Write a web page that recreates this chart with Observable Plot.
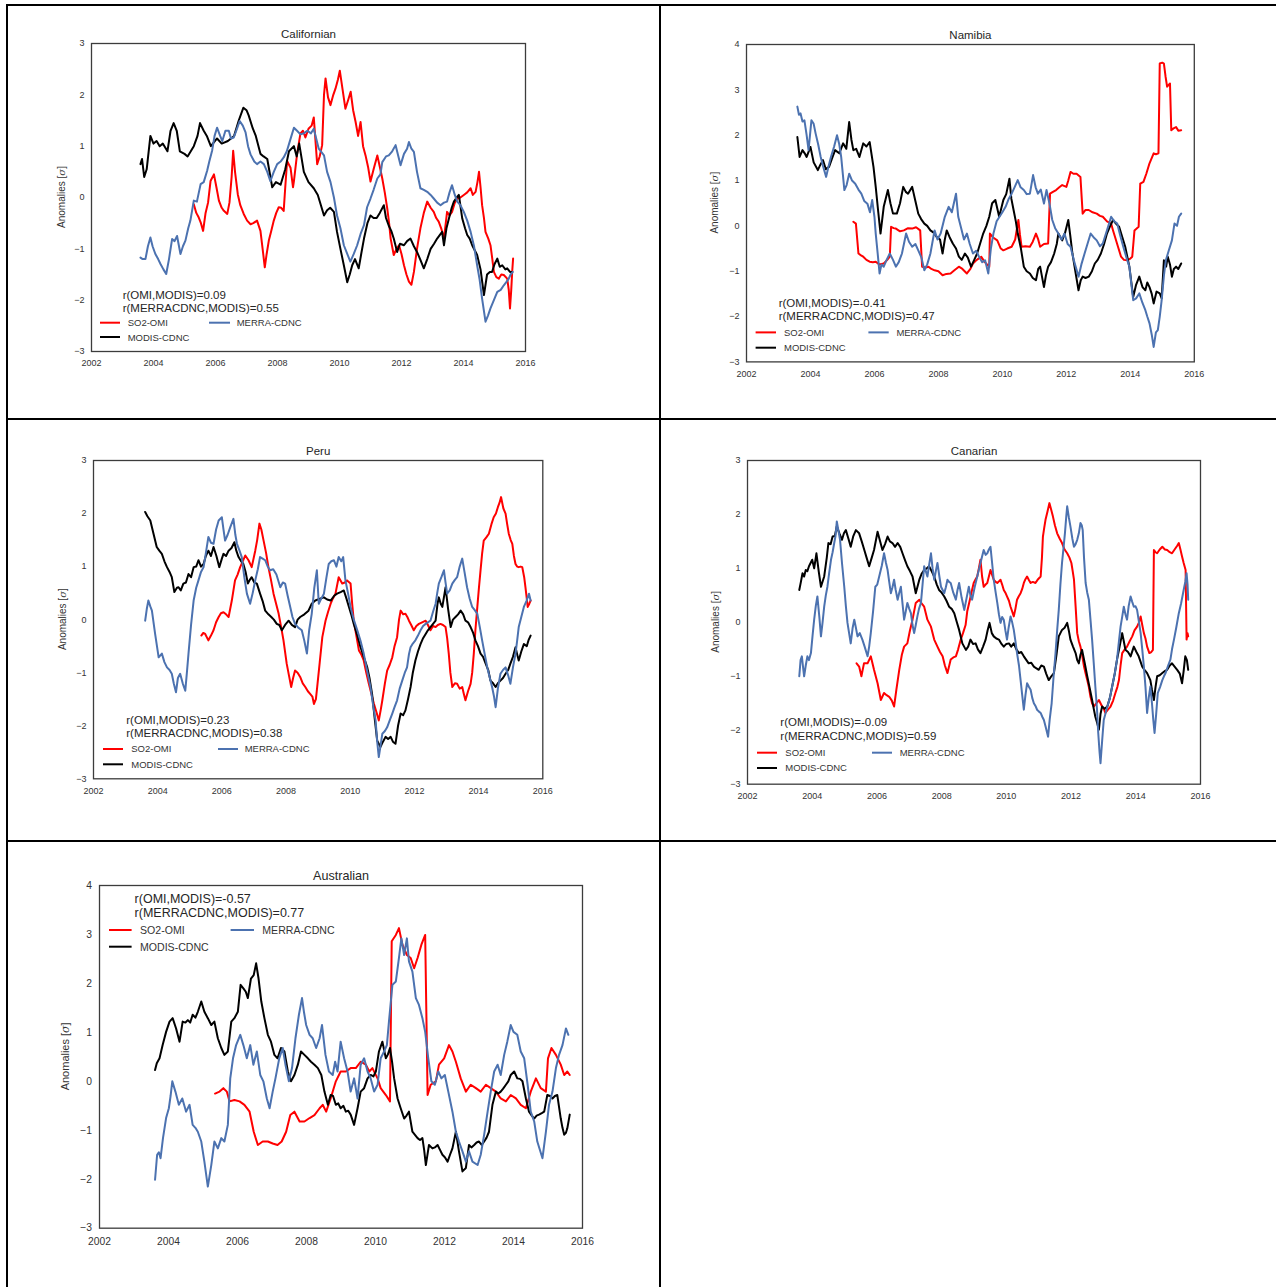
<!DOCTYPE html>
<html><head><meta charset="utf-8">
<script src="https://cdn.jsdelivr.net/npm/d3@7"></script>
<script src="https://cdn.jsdelivr.net/npm/@observablehq/plot@0.6"></script>
<style>
body{margin:0;background:#fff;}
#page{position:relative;width:1276px;height:1287px;overflow:hidden;background:#fff;}
.rule{position:absolute;background:#000;}
</style></head><body><div id="page"></div>
<script>
// ---------------- DATA (year, anomaly in sigma) ----------------
const years = [2002, 2004, 2006, 2008, 2010, 2012, 2014, 2016];
const seriesNames = ["SO2-OMI", "MERRA-CDNC", "MODIS-CDNC"];
const regionNames = ["Californian", "Namibia", "Peru", "Canarian", "Australian"];
const corrOMI = ["r(OMI,MODIS)=0.09", "r(OMI,MODIS)=-0.41", "r(OMI,MODIS)=0.23", "r(OMI,MODIS)=-0.09", "r(OMI,MODIS)=-0.57"];
const corrMERRA = ["r(MERRACDNC,MODIS)=0.55", "r(MERRACDNC,MODIS)=0.47", "r(MERRACDNC,MODIS)=0.38", "r(MERRACDNC,MODIS)=0.59", "r(MERRACDNC,MODIS)=0.77"];

const calMODIS = [[2003.58,0.65],[2003.63,0.75],[2003.7,0.4],[2003.78,0.55],[2003.9,1.2],[2004.0,1.05],[2004.1,1.1],[2004.2,1.0],[2004.3,1.05],[2004.45,0.9],[2004.55,1.3],[2004.65,1.45],[2004.75,1.3],[2004.85,0.9],[2005.0,0.85],[2005.1,0.8],[2005.3,1.0],[2005.42,1.2],[2005.5,1.45],[2005.62,1.3],[2005.72,1.2],[2005.85,1.0],[2006.05,1.15],[2006.2,1.05],[2006.4,1.1],[2006.6,1.2],[2006.75,1.5],[2006.9,1.75],[2007.0,1.7],[2007.07,1.6],[2007.2,1.35],[2007.3,1.2],[2007.45,0.85],[2007.55,0.8],[2007.67,0.75],[2007.83,0.2],[2007.95,0.3],[2008.1,0.25],[2008.25,0.55],[2008.37,0.9],[2008.53,1.0],[2008.62,0.8],[2008.7,1.05],[2008.85,0.5],[2009.0,0.3],[2009.17,0.18],[2009.3,0.05],[2009.5,-0.35],[2009.6,-0.25],[2009.7,-0.2],[2009.82,-0.28],[2009.92,-0.67],[2010.03,-1.0],[2010.14,-1.32],[2010.25,-1.65],[2010.33,-1.5],[2010.41,-1.32],[2010.5,-1.2],[2010.62,-1.38],[2010.7,-1.1],[2010.79,-0.8],[2010.9,-0.5],[2011.0,-0.35],[2011.1,-0.4],[2011.2,-0.4],[2011.3,-0.3],[2011.43,-0.15],[2011.5,-0.4],[2011.59,-0.55],[2011.67,-0.65],[2011.75,-0.8],[2011.86,-1.06],[2011.95,-0.9],[2012.08,-0.93],[2012.18,-0.85],[2012.29,-0.8],[2012.4,-0.95],[2012.5,-1.06],[2012.6,-1.2],[2012.72,-1.38],[2012.83,-1.2],[2012.94,-1.0],[2013.05,-0.9],[2013.15,-0.8],[2013.31,-0.67],[2013.37,-0.93],[2013.45,-0.6],[2013.53,-0.41],[2013.62,-0.2],[2013.69,-0.08],[2013.78,0.0],[2013.85,0.05],[2013.96,-0.41],[2014.05,-0.6],[2014.12,-0.73],[2014.2,-0.8],[2014.28,-0.93],[2014.44,-1.12],[2014.55,-1.4],[2014.66,-1.9],[2014.76,-1.5],[2014.85,-1.45],[2014.92,-1.45],[2015.0,-1.3],[2015.09,-1.19],[2015.17,-1.35],[2015.25,-1.32],[2015.35,-1.4],[2015.41,-1.38],[2015.5,-1.45],[2015.57,-1.45]];
const calMERRA = [[2003.58,-1.17],[2003.65,-1.2],[2003.74,-1.2],[2003.82,-0.95],[2003.9,-0.78],[2003.97,-0.95],[2004.06,-1.1],[2004.15,-1.2],[2004.23,-1.3],[2004.32,-1.4],[2004.41,-1.49],[2004.5,-1.2],[2004.6,-0.81],[2004.68,-0.85],[2004.76,-0.75],[2004.87,-1.1],[2004.95,-0.95],[2005.03,-0.84],[2005.12,-0.6],[2005.19,-0.45],[2005.3,-0.06],[2005.4,-0.08],[2005.52,0.26],[2005.62,0.3],[2005.73,0.52],[2005.8,0.7],[2005.89,0.91],[2005.97,1.2],[2006.05,1.36],[2006.15,1.2],[2006.22,1.1],[2006.32,1.3],[2006.43,1.3],[2006.5,1.15],[2006.59,1.17],[2006.7,1.35],[2006.78,1.49],[2006.88,1.4],[2006.97,1.27],[2007.05,1.0],[2007.13,0.84],[2007.25,0.7],[2007.34,0.65],[2007.45,0.7],[2007.56,0.65],[2007.67,0.5],[2007.77,0.32],[2007.88,0.5],[2007.99,0.65],[2008.1,0.7],[2008.2,0.78],[2008.3,0.9],[2008.37,1.04],[2008.45,1.2],[2008.53,1.36],[2008.63,1.3],[2008.74,1.23],[2008.85,1.25],[2008.96,1.3],[2009.08,1.25],[2009.17,1.34],[2009.33,0.95],[2009.5,0.82],[2009.6,0.5],[2009.71,0.3],[2009.82,0.0],[2009.92,-0.35],[2010.03,-0.6],[2010.14,-0.93],[2010.25,-1.1],[2010.35,-1.25],[2010.46,-1.1],[2010.57,-0.93],[2010.68,-0.71],[2010.79,-0.54],[2010.89,-0.19],[2011.0,-0.02],[2011.1,0.15],[2011.22,0.37],[2011.32,0.45],[2011.38,0.69],[2011.5,0.8],[2011.59,0.82],[2011.7,0.9],[2011.81,1.02],[2011.9,0.8],[2011.97,0.63],[2012.08,0.85],[2012.18,0.95],[2012.24,1.08],[2012.32,0.95],[2012.4,0.89],[2012.5,0.5],[2012.61,0.18],[2012.72,0.15],[2012.83,0.11],[2012.94,0.05],[2013.04,-0.02],[2013.15,-0.1],[2013.26,-0.15],[2013.37,-0.1],[2013.47,-0.08],[2013.55,0.1],[2013.63,0.24],[2013.72,0.05],[2013.8,-0.08],[2013.9,-0.15],[2014.01,-0.28],[2014.12,-0.45],[2014.23,-0.67],[2014.34,-0.95],[2014.44,-1.32],[2014.52,-1.6],[2014.6,-1.97],[2014.71,-2.42],[2014.79,-2.3],[2014.87,-2.16],[2014.98,-2.0],[2015.09,-1.84],[2015.2,-1.8],[2015.3,-1.71],[2015.38,-1.65],[2015.46,-1.58],[2015.52,-1.5],[2015.59,-1.45]];
const calSO2 = [[2005.3,-0.13],[2005.38,-0.3],[2005.46,-0.39],[2005.53,-0.5],[2005.6,-0.65],[2005.68,-0.3],[2005.76,-0.1],[2005.84,0.32],[2005.95,0.45],[2006.03,0.2],[2006.11,-0.06],[2006.2,-0.2],[2006.27,-0.26],[2006.38,-0.32],[2006.45,-0.1],[2006.52,0.4],[2006.57,0.91],[2006.63,0.5],[2006.72,0.06],[2006.8,-0.15],[2006.91,-0.32],[2007.02,-0.45],[2007.13,-0.52],[2007.22,-0.5],[2007.34,-0.45],[2007.45,-0.65],[2007.52,-1.0],[2007.59,-1.36],[2007.65,-1.1],[2007.72,-0.84],[2007.8,-0.65],[2007.88,-0.45],[2007.96,-0.3],[2008.04,-0.19],[2008.12,-0.2],[2008.2,-0.26],[2008.25,0.2],[2008.31,0.71],[2008.42,0.58],[2008.5,0.2],[2008.53,0.32],[2008.63,0.84],[2008.74,1.25],[2008.82,1.3],[2008.9,1.17],[2009.0,1.34],[2009.1,1.4],[2009.17,1.56],[2009.28,0.65],[2009.36,0.8],[2009.44,1.02],[2009.5,2.0],[2009.55,2.32],[2009.63,1.95],[2009.71,1.8],[2009.8,2.0],[2009.87,2.12],[2009.95,2.3],[2010.01,2.47],[2010.1,2.1],[2010.19,1.73],[2010.28,1.9],[2010.36,2.06],[2010.44,1.7],[2010.52,1.47],[2010.6,1.2],[2010.68,1.47],[2010.76,1.0],[2010.84,0.82],[2010.92,0.6],[2011.0,0.31],[2011.1,0.55],[2011.22,0.82],[2011.3,0.6],[2011.38,0.37],[2011.46,0.1],[2011.54,-0.21],[2011.6,-0.5],[2011.65,-0.8],[2011.75,-1.12],[2011.84,-1.0],[2011.92,-0.93],[2012.0,-1.1],[2012.08,-1.32],[2012.16,-1.5],[2012.24,-1.64],[2012.32,-1.7],[2012.4,-1.45],[2012.5,-1.0],[2012.61,-0.6],[2012.72,-0.3],[2012.83,-0.08],[2012.94,-0.2],[2013.04,-0.28],[2013.12,-0.4],[2013.2,-0.47],[2013.28,-0.6],[2013.37,-0.8],[2013.47,-0.28],[2013.55,-0.35],[2013.63,-0.28],[2013.72,-0.1],[2013.8,-0.02],[2013.9,0.0],[2014.01,0.05],[2014.12,0.1],[2014.23,0.18],[2014.3,0.05],[2014.39,0.11],[2014.45,0.3],[2014.5,0.5],[2014.55,0.2],[2014.6,-0.15],[2014.66,-0.4],[2014.71,-0.67],[2014.8,-0.8],[2014.87,-0.93],[2014.93,-1.2],[2014.98,-1.45],[2015.06,-1.55],[2015.14,-1.58],[2015.22,-1.5],[2015.3,-1.51],[2015.41,-1.58],[2015.46,-1.8],[2015.5,-2.16],[2015.54,-1.8],[2015.57,-1.45],[2015.6,-1.19]];

const namMODIS = [[2003.59,1.96],[2003.66,1.52],[2003.75,1.67],[2003.82,1.6],[2003.88,1.52],[2004.0,1.74],[2004.1,1.4],[2004.23,1.23],[2004.31,1.35],[2004.39,1.45],[2004.48,1.25],[2004.58,1.3],[2004.68,1.5],[2004.77,1.67],[2004.9,1.6],[2005.02,1.82],[2005.12,1.7],[2005.21,2.29],[2005.28,1.9],[2005.34,1.67],[2005.43,1.7],[2005.53,1.52],[2005.65,1.82],[2005.75,1.75],[2005.85,1.85],[2005.97,1.3],[2006.04,0.86],[2006.12,0.3],[2006.19,-0.17],[2006.29,0.42],[2006.42,0.79],[2006.5,0.5],[2006.58,0.27],[2006.7,0.27],[2006.8,0.5],[2006.9,0.86],[2006.98,0.75],[2007.05,0.71],[2007.18,0.86],[2007.28,0.55],[2007.37,0.27],[2007.46,0.15],[2007.56,0.05],[2007.65,0.0],[2007.75,-0.1],[2007.85,-0.15],[2007.94,-0.24],[2008.05,-0.3],[2008.13,-0.61],[2008.2,-0.3],[2008.26,-0.1],[2008.35,-0.25],[2008.45,-0.39],[2008.55,-0.5],[2008.64,-0.68],[2008.73,-0.75],[2008.83,-0.61],[2008.92,-0.7],[2009.02,-0.9],[2009.12,-0.75],[2009.21,-0.61],[2009.3,-0.4],[2009.4,-0.17],[2009.5,0.0],[2009.59,0.2],[2009.68,0.5],[2009.78,0.57],[2009.9,0.2],[2010.03,0.57],[2010.12,0.7],[2010.22,1.04],[2010.28,0.6],[2010.35,0.35],[2010.42,0.1],[2010.48,-0.17],[2010.58,-0.5],[2010.67,-0.9],[2010.76,-1.0],[2010.86,-1.05],[2010.95,-1.15],[2011.05,-1.2],[2011.12,-0.95],[2011.18,-0.9],[2011.3,-1.35],[2011.36,-1.1],[2011.43,-0.9],[2011.52,-0.8],[2011.62,-0.61],[2011.7,-0.4],[2011.75,-0.17],[2011.87,-0.32],[2011.96,-0.15],[2012.06,0.13],[2012.12,-0.2],[2012.19,-0.61],[2012.28,-1.0],[2012.38,-1.42],[2012.45,-1.2],[2012.51,-1.12],[2012.6,-1.15],[2012.7,-1.12],[2012.8,-1.0],[2012.89,-0.83],[2012.98,-0.75],[2013.08,-0.61],[2013.18,-0.4],[2013.27,-0.17],[2013.37,0.0],[2013.46,0.13],[2013.55,0.05],[2013.65,-0.02],[2013.75,-0.25],[2013.84,-0.46],[2013.97,-0.9],[2014.09,-1.57],[2014.18,-1.3],[2014.28,-1.12],[2014.38,-1.35],[2014.47,-1.42],[2014.53,-1.25],[2014.6,-1.35],[2014.67,-1.5],[2014.73,-1.71],[2014.82,-1.45],[2014.92,-1.49],[2014.98,-1.6],[2015.05,-0.76],[2015.12,-0.9],[2015.17,-0.68],[2015.24,-0.85],[2015.3,-1.12],[2015.36,-0.95],[2015.43,-0.9],[2015.5,-0.95],[2015.59,-0.83]];
const namMERRA = [[2003.59,2.63],[2003.64,2.45],[2003.69,2.48],[2003.75,2.3],[2003.81,2.33],[2003.88,2.0],[2003.94,1.67],[2004.03,2.33],[2004.1,2.25],[2004.16,2.04],[2004.24,1.8],[2004.32,1.52],[2004.4,1.3],[2004.49,1.08],[2004.56,1.3],[2004.64,1.52],[2004.74,1.75],[2004.83,2.0],[2004.9,1.8],[2004.96,1.52],[2005.06,0.79],[2005.13,0.9],[2005.21,1.15],[2005.3,1.0],[2005.4,0.93],[2005.5,0.8],[2005.59,0.71],[2005.68,0.55],[2005.78,0.49],[2005.86,0.3],[2005.93,0.57],[2006.0,0.2],[2006.04,-0.17],[2006.1,-0.6],[2006.16,-1.05],[2006.22,-0.85],[2006.29,-0.9],[2006.38,-0.75],[2006.48,-0.61],[2006.58,-0.75],[2006.67,-0.9],[2006.76,-0.8],[2006.86,-0.61],[2006.99,-0.17],[2007.08,-0.35],[2007.18,-0.46],[2007.28,-0.4],[2007.37,-0.54],[2007.47,-0.7],[2007.56,-0.98],[2007.65,-0.85],[2007.75,-0.61],[2007.88,-0.1],[2007.97,-0.3],[2008.07,-0.17],[2008.2,0.2],[2008.32,0.42],[2008.42,0.3],[2008.55,0.71],[2008.62,0.2],[2008.7,-0.02],[2008.8,-0.3],[2008.89,-0.17],[2008.98,-0.4],[2009.08,-0.61],[2009.18,-0.55],[2009.27,-0.68],[2009.37,-0.8],[2009.46,-0.76],[2009.56,-1.05],[2009.64,-0.5],[2009.72,-0.17],[2009.82,0.1],[2009.91,0.2],[2010.0,0.3],[2010.1,0.42],[2010.2,0.6],[2010.29,0.71],[2010.38,0.85],[2010.48,1.01],[2010.57,0.85],[2010.67,0.79],[2010.76,0.7],[2010.86,0.71],[2010.96,1.12],[2011.04,0.85],[2011.11,0.71],[2011.2,0.8],[2011.3,0.49],[2011.38,0.79],[2011.47,0.5],[2011.56,0.13],[2011.65,-0.05],[2011.75,-0.17],[2011.85,-0.3],[2011.94,-0.17],[2012.04,-0.4],[2012.13,-0.46],[2012.25,-0.8],[2012.38,-1.12],[2012.47,-0.85],[2012.57,-0.61],[2012.66,-0.4],[2012.76,-0.17],[2012.85,-0.25],[2012.95,-0.32],[2013.05,-0.45],[2013.14,-0.39],[2013.27,-0.1],[2013.4,0.2],[2013.5,0.1],[2013.59,0.05],[2013.68,-0.2],[2013.78,-0.46],[2013.88,-0.7],[2013.97,-0.9],[2014.09,-1.64],[2014.18,-1.6],[2014.28,-1.49],[2014.38,-1.7],[2014.47,-1.86],[2014.53,-2.0],[2014.6,-2.15],[2014.67,-2.4],[2014.73,-2.67],[2014.8,-2.35],[2014.86,-2.3],[2014.92,-2.0],[2014.98,-1.64],[2015.05,-1.1],[2015.11,-0.76],[2015.2,-0.55],[2015.3,-0.32],[2015.38,0.05],[2015.46,0.0],[2015.52,0.2],[2015.59,0.27]];
const namSO2 = [[2005.34,0.09],[2005.42,0.05],[2005.5,-0.61],[2005.58,-0.65],[2005.65,-0.68],[2005.75,-0.75],[2005.85,-0.79],[2005.95,-0.8],[2006.04,-0.79],[2006.15,-0.85],[2006.29,-0.83],[2006.4,-0.75],[2006.48,-0.68],[2006.52,-0.02],[2006.6,-0.05],[2006.67,-0.06],[2006.8,-0.12],[2006.92,-0.1],[2007.05,-0.05],[2007.18,-0.06],[2007.3,-0.03],[2007.43,-0.1],[2007.49,-0.9],[2007.6,-0.92],[2007.69,-0.9],[2007.78,-0.95],[2007.88,-0.98],[2008.0,-1.0],[2008.13,-1.09],[2008.25,-1.06],[2008.38,-1.05],[2008.5,-0.98],[2008.64,-0.9],[2008.75,-0.95],[2008.89,-1.05],[2009.0,-0.95],[2009.08,-0.83],[2009.2,-0.75],[2009.34,-0.68],[2009.45,-0.8],[2009.59,-0.9],[2009.61,-0.17],[2009.7,-0.25],[2009.84,-0.32],[2009.95,-0.5],[2010.03,-0.54],[2010.15,-0.5],[2010.29,-0.46],[2010.4,-0.3],[2010.5,0.13],[2010.55,-0.2],[2010.6,-0.46],[2010.72,-0.45],[2010.86,-0.46],[2010.95,-0.35],[2011.05,-0.17],[2011.12,-0.3],[2011.18,-0.46],[2011.3,-0.4],[2011.43,-0.39],[2011.49,0.71],[2011.58,0.75],[2011.68,0.79],[2011.78,0.85],[2011.87,0.9],[2012.0,0.86],[2012.06,1.0],[2012.13,1.19],[2012.22,1.15],[2012.32,1.15],[2012.44,1.08],[2012.51,0.27],[2012.6,0.35],[2012.7,0.35],[2012.82,0.3],[2012.95,0.27],[2013.05,0.22],[2013.14,0.2],[2013.27,0.1],[2013.4,0.05],[2013.46,-0.1],[2013.52,-0.24],[2013.61,-0.45],[2013.71,-0.68],[2013.8,-0.75],[2013.9,-0.76],[2014.0,-0.72],[2014.06,-0.68],[2014.13,-0.1],[2014.26,-0.02],[2014.31,0.93],[2014.41,0.97],[2014.5,1.15],[2014.6,1.38],[2014.73,1.6],[2014.8,1.58],[2014.88,1.6],[2014.92,3.58],[2015.0,3.6],[2015.05,3.58],[2015.1,3.3],[2015.15,3.07],[2015.24,3.14],[2015.28,2.11],[2015.35,2.15],[2015.43,2.18],[2015.5,2.1],[2015.59,2.11]];

const peruMODIS = [[2003.61,2.03],[2003.68,1.95],[2003.77,1.87],[2003.87,1.62],[2003.97,1.37],[2004.05,1.3],[2004.13,1.24],[2004.21,1.1],[2004.29,0.99],[2004.37,0.9],[2004.44,0.8],[2004.52,0.52],[2004.6,0.6],[2004.65,0.61],[2004.72,0.55],[2004.8,0.68],[2004.88,0.7],[2004.96,0.86],[2005.04,0.8],[2005.12,0.99],[2005.2,1.0],[2005.27,1.12],[2005.35,1.0],[2005.43,1.05],[2005.5,1.2],[2005.58,1.3],[2005.66,1.2],[2005.74,1.37],[2005.83,1.2],[2005.92,0.99],[2006.0,1.15],[2006.05,1.24],[2006.13,1.2],[2006.21,1.3],[2006.3,1.35],[2006.39,1.46],[2006.45,1.3],[2006.52,1.18],[2006.6,1.1],[2006.67,1.05],[2006.74,0.9],[2006.81,0.68],[2006.87,0.75],[2006.93,0.8],[2007.01,0.7],[2007.09,0.68],[2007.19,0.49],[2007.27,0.35],[2007.35,0.17],[2007.45,0.1],[2007.54,0.05],[2007.62,0.0],[2007.71,-0.08],[2007.79,-0.1],[2007.87,-0.2],[2007.97,-0.1],[2008.08,-0.02],[2008.18,-0.1],[2008.28,-0.14],[2008.36,0.0],[2008.44,0.05],[2008.57,0.1],[2008.7,0.17],[2008.8,0.3],[2008.91,0.36],[2009.08,0.4],[2009.18,0.42],[2009.28,0.38],[2009.39,0.36],[2009.5,0.45],[2009.59,0.49],[2009.7,0.52],[2009.8,0.55],[2009.88,0.4],[2009.96,0.24],[2010.03,0.1],[2010.11,-0.08],[2010.22,-0.3],[2010.32,-0.52],[2010.42,-0.7],[2010.53,-0.9],[2010.6,-1.1],[2010.68,-1.4],[2010.76,-1.85],[2010.84,-2.28],[2010.94,-2.4],[2011.02,-2.3],[2011.1,-2.21],[2011.18,-2.25],[2011.26,-2.21],[2011.33,-2.3],[2011.41,-2.34],[2011.49,-2.0],[2011.57,-1.77],[2011.65,-1.8],[2011.72,-1.71],[2011.8,-1.5],[2011.88,-1.27],[2011.95,-1.0],[2012.03,-0.77],[2012.11,-0.6],[2012.19,-0.46],[2012.27,-0.35],[2012.35,-0.27],[2012.42,-0.2],[2012.5,-0.14],[2012.58,-0.08],[2012.66,-0.02],[2012.72,0.3],[2012.76,0.42],[2012.82,0.3],[2012.87,0.24],[2012.97,0.61],[2013.05,0.2],[2013.13,-0.14],[2013.2,0.0],[2013.28,0.05],[2013.36,0.1],[2013.44,0.17],[2013.52,0.1],[2013.59,-0.02],[2013.67,-0.05],[2013.75,-0.14],[2013.83,-0.25],[2013.9,-0.39],[2013.98,-0.5],[2014.06,-0.64],[2014.14,-0.7],[2014.22,-0.83],[2014.3,-0.95],[2014.37,-1.15],[2014.45,-1.2],[2014.53,-1.27],[2014.6,-1.2],[2014.68,-1.15],[2014.76,-1.1],[2014.84,-1.02],[2014.92,-0.95],[2014.99,-0.83],[2015.07,-0.7],[2015.15,-0.52],[2015.2,-0.65],[2015.25,-0.77],[2015.33,-0.6],[2015.41,-0.46],[2015.5,-0.5],[2015.56,-0.38],[2015.62,-0.3]];
const peruMERRA = [[2003.61,-0.02],[2003.66,0.2],[2003.71,0.36],[2003.77,0.25],[2003.82,0.17],[2003.92,-0.27],[2004.03,-0.71],[2004.13,-0.64],[2004.21,-0.8],[2004.29,-0.9],[2004.37,-0.95],[2004.44,-1.02],[2004.5,-1.2],[2004.57,-1.37],[2004.63,-1.1],[2004.7,-1.02],[2004.78,-1.2],[2004.86,-1.34],[2004.91,-1.0],[2004.96,-0.64],[2005.04,-0.1],[2005.12,0.36],[2005.2,0.6],[2005.27,0.74],[2005.35,0.9],[2005.43,0.99],[2005.5,1.25],[2005.58,1.56],[2005.66,1.45],[2005.74,1.43],[2005.82,1.7],[2005.9,1.87],[2006.0,1.93],[2006.05,1.7],[2006.1,1.49],[2006.18,1.6],[2006.26,1.74],[2006.36,1.9],[2006.42,1.6],[2006.47,1.43],[2006.55,1.3],[2006.62,1.18],[2006.7,0.8],[2006.78,0.49],[2006.88,0.3],[2006.96,0.5],[2007.04,0.74],[2007.12,0.95],[2007.19,1.18],[2007.27,1.15],[2007.35,1.12],[2007.43,1.0],[2007.5,0.93],[2007.6,0.95],[2007.7,0.85],[2007.82,0.61],[2007.9,0.7],[2007.97,0.68],[2008.05,0.45],[2008.13,0.24],[2008.2,0.05],[2008.28,-0.08],[2008.38,-0.15],[2008.49,-0.2],[2008.57,-0.4],[2008.65,-0.64],[2008.72,-0.2],[2008.8,0.11],[2008.88,0.6],[2008.96,0.93],[2009.02,0.3],[2009.1,0.4],[2009.18,0.49],[2009.26,0.8],[2009.33,1.05],[2009.41,1.1],[2009.49,1.12],[2009.57,1.0],[2009.64,1.18],[2009.72,1.1],[2009.78,1.18],[2009.85,0.74],[2009.93,0.5],[2010.01,0.24],[2010.11,0.0],[2010.22,-0.2],[2010.32,-0.4],[2010.42,-0.64],[2010.52,-0.95],[2010.63,-1.27],[2010.71,-1.6],[2010.79,-1.9],[2010.84,-2.3],[2010.89,-2.59],[2010.95,-2.35],[2011.0,-2.15],[2011.08,-2.1],[2011.15,-2.03],[2011.23,-1.9],[2011.31,-1.77],[2011.38,-1.65],[2011.46,-1.52],[2011.54,-1.3],[2011.62,-1.15],[2011.7,-1.0],[2011.77,-0.9],[2011.83,-0.65],[2011.88,-0.52],[2011.95,-0.45],[2012.03,-0.39],[2012.11,-0.3],[2012.19,-0.2],[2012.27,-0.12],[2012.35,-0.08],[2012.42,-0.05],[2012.5,-0.02],[2012.58,0.15],[2012.66,0.3],[2012.71,0.5],[2012.76,0.68],[2012.84,0.8],[2012.92,0.93],[2012.97,0.7],[2013.02,0.49],[2013.1,0.55],[2013.18,0.68],[2013.26,0.75],[2013.33,0.8],[2013.41,1.0],[2013.49,1.15],[2013.56,0.9],[2013.64,0.61],[2013.72,0.4],[2013.8,0.24],[2013.88,0.18],[2013.96,0.11],[2014.04,-0.15],[2014.11,-0.39],[2014.19,-0.65],[2014.27,-0.9],[2014.35,-1.1],[2014.42,-1.27],[2014.48,-1.45],[2014.53,-1.65],[2014.6,-1.3],[2014.68,-1.02],[2014.76,-0.95],[2014.84,-0.9],[2014.92,-1.05],[2014.99,-1.21],[2015.07,-0.9],[2015.15,-0.64],[2015.2,-0.4],[2015.25,-0.14],[2015.33,0.05],[2015.41,0.24],[2015.49,0.35],[2015.57,0.49],[2015.62,0.36]];
const peruSO2 = [[2005.36,-0.3],[2005.42,-0.25],[2005.48,-0.27],[2005.58,-0.39],[2005.66,-0.3],[2005.74,-0.2],[2005.82,-0.05],[2005.9,0.05],[2005.97,0.12],[2006.05,0.14],[2006.13,0.1],[2006.21,0.05],[2006.31,0.36],[2006.41,0.74],[2006.49,0.85],[2006.57,0.99],[2006.65,1.1],[2006.73,1.21],[2006.83,1.12],[2006.93,0.99],[2007.04,1.3],[2007.1,1.5],[2007.17,1.81],[2007.23,1.7],[2007.3,1.49],[2007.38,1.25],[2007.45,0.99],[2007.53,0.75],[2007.61,0.49],[2007.69,0.3],[2007.77,0.11],[2007.85,-0.15],[2007.92,-0.39],[2008.02,-0.83],[2008.09,-1.05],[2008.16,-1.27],[2008.22,-1.1],[2008.28,-0.96],[2008.36,-1.0],[2008.44,-1.08],[2008.52,-1.2],[2008.6,-1.27],[2008.68,-1.35],[2008.75,-1.4],[2008.82,-1.45],[2008.87,-1.59],[2008.93,-1.5],[2008.97,-1.27],[2009.05,-0.8],[2009.13,-0.33],[2009.23,-0.02],[2009.31,0.15],[2009.39,0.3],[2009.46,0.4],[2009.54,0.49],[2009.64,0.8],[2009.75,0.68],[2009.83,0.7],[2009.9,0.74],[2010.01,0.68],[2010.06,0.3],[2010.11,-0.02],[2010.19,-0.3],[2010.27,-0.58],[2010.34,-0.65],[2010.42,-0.77],[2010.5,-1.0],[2010.58,-1.21],[2010.66,-1.4],[2010.74,-1.59],[2010.82,-1.75],[2010.89,-1.9],[2010.95,-1.7],[2011.0,-1.52],[2011.08,-1.2],[2011.15,-0.96],[2011.23,-0.85],[2011.31,-0.71],[2011.38,-0.5],[2011.46,-0.33],[2011.52,0.0],[2011.57,0.17],[2011.65,0.1],[2011.72,0.11],[2011.78,0.05],[2011.83,-0.02],[2011.9,-0.1],[2011.98,-0.2],[2012.06,-0.12],[2012.14,-0.08],[2012.24,-0.05],[2012.35,-0.02],[2012.42,-0.1],[2012.5,-0.2],[2012.58,-0.12],[2012.66,-0.14],[2012.73,-0.1],[2012.81,-0.08],[2012.89,-0.1],[2012.97,-0.14],[2013.02,-0.35],[2013.07,-0.64],[2013.12,-1.0],[2013.18,-1.27],[2013.26,-1.2],[2013.33,-1.21],[2013.41,-1.3],[2013.49,-1.27],[2013.54,-1.4],[2013.59,-1.52],[2013.67,-1.35],[2013.75,-1.21],[2013.8,-1.0],[2013.85,-0.64],[2013.9,-0.2],[2013.96,0.24],[2014.01,0.6],[2014.06,0.93],[2014.11,1.25],[2014.16,1.49],[2014.24,1.55],[2014.32,1.62],[2014.4,1.8],[2014.47,1.93],[2014.54,2.0],[2014.6,2.12],[2014.65,2.2],[2014.7,2.31],[2014.77,2.1],[2014.84,2.0],[2014.89,1.8],[2014.94,1.62],[2015.0,1.5],[2015.05,1.43],[2015.1,1.2],[2015.15,1.05],[2015.2,1.0],[2015.25,0.99],[2015.31,1.0],[2015.36,0.99],[2015.42,0.8],[2015.46,0.61],[2015.5,0.4],[2015.53,0.24],[2015.58,0.3],[2015.62,0.36]];

const canMODIS = [[2003.6,0.6],[2003.65,0.75],[2003.7,0.91],[2003.75,0.85],[2003.8,0.97],[2003.85,0.95],[2003.9,1.04],[2004.0,1.16],[2004.06,1.0],[2004.13,1.28],[2004.2,0.95],[2004.27,0.66],[2004.37,0.85],[2004.45,1.2],[2004.5,1.47],[2004.57,1.45],[2004.63,1.59],[2004.7,1.6],[2004.76,1.78],[2004.84,1.65],[2004.92,1.53],[2004.98,1.65],[2005.04,1.71],[2005.12,1.55],[2005.19,1.4],[2005.27,1.6],[2005.35,1.71],[2005.45,1.65],[2005.53,1.5],[2005.61,1.34],[2005.68,1.2],[2005.76,1.04],[2005.84,1.2],[2005.91,1.34],[2006.02,1.68],[2006.1,1.5],[2006.17,1.34],[2006.25,1.45],[2006.33,1.59],[2006.4,1.5],[2006.48,1.47],[2006.56,1.4],[2006.64,1.47],[2006.72,1.4],[2006.79,1.28],[2006.87,1.15],[2006.94,1.04],[2007.02,0.95],[2007.1,0.85],[2007.2,0.54],[2007.31,0.79],[2007.38,0.9],[2007.46,0.97],[2007.54,1.0],[2007.61,1.04],[2007.69,0.95],[2007.77,0.85],[2007.85,0.7],[2007.92,0.6],[2008.0,0.55],[2008.08,0.48],[2008.15,0.4],[2008.23,0.29],[2008.31,0.25],[2008.39,0.17],[2008.47,0.0],[2008.54,-0.14],[2008.64,-0.39],[2008.75,-0.51],[2008.82,-0.45],[2008.89,-0.32],[2008.97,-0.4],[2009.05,-0.39],[2009.12,-0.5],[2009.2,-0.57],[2009.28,-0.45],[2009.36,-0.32],[2009.42,-0.15],[2009.48,-0.01],[2009.55,-0.2],[2009.61,-0.26],[2009.69,-0.3],[2009.77,-0.32],[2009.85,-0.4],[2009.92,-0.45],[2010.0,-0.4],[2010.08,-0.39],[2010.15,-0.45],[2010.23,-0.39],[2010.31,-0.5],[2010.39,-0.57],[2010.46,-0.55],[2010.54,-0.63],[2010.62,-0.7],[2010.69,-0.76],[2010.77,-0.75],[2010.85,-0.82],[2010.92,-0.85],[2011.0,-0.88],[2011.08,-0.8],[2011.16,-0.82],[2011.23,-0.95],[2011.31,-1.07],[2011.39,-1.0],[2011.47,-0.94],[2011.55,-0.6],[2011.62,-0.26],[2011.67,-0.2],[2011.72,-0.14],[2011.8,-0.1],[2011.88,-0.01],[2011.93,-0.15],[2011.98,-0.32],[2012.06,-0.45],[2012.14,-0.57],[2012.19,-0.7],[2012.24,-0.76],[2012.29,-0.6],[2012.34,-0.51],[2012.42,-0.75],[2012.5,-1.0],[2012.57,-1.2],[2012.65,-1.44],[2012.7,-1.6],[2012.75,-1.75],[2012.8,-1.85],[2012.86,-1.99],[2012.91,-1.7],[2012.96,-1.56],[2013.04,-1.6],[2013.12,-1.56],[2013.2,-1.4],[2013.27,-1.19],[2013.35,-0.95],[2013.42,-0.69],[2013.5,-0.45],[2013.58,-0.2],[2013.63,-0.35],[2013.68,-0.51],[2013.76,-0.55],[2013.84,-0.63],[2013.94,-0.45],[2014.02,-0.55],[2014.09,-0.63],[2014.2,-0.82],[2014.27,-0.88],[2014.35,-0.94],[2014.45,-1.07],[2014.5,-1.25],[2014.56,-1.44],[2014.61,-1.2],[2014.66,-1.0],[2014.74,-0.98],[2014.82,-0.94],[2014.9,-0.9],[2014.97,-0.88],[2015.05,-0.8],[2015.12,-0.76],[2015.2,-0.82],[2015.28,-0.88],[2015.36,-0.95],[2015.43,-1.13],[2015.48,-0.9],[2015.53,-0.63],[2015.58,-0.7],[2015.62,-0.88]];
const canMERRA = [[2003.6,-1.0],[2003.64,-0.7],[2003.68,-0.63],[2003.72,-0.85],[2003.75,-1.0],[2003.8,-0.8],[2003.85,-0.63],[2003.9,-0.7],[2003.96,-0.57],[2004.01,-0.25],[2004.06,0.05],[2004.11,0.3],[2004.16,0.48],[2004.22,0.1],[2004.27,-0.26],[2004.32,0.0],[2004.37,0.29],[2004.42,0.5],[2004.47,0.66],[2004.52,0.9],[2004.58,1.16],[2004.63,1.3],[2004.68,1.47],[2004.72,1.6],[2004.76,1.87],[2004.81,1.7],[2004.86,1.53],[2004.92,1.1],[2004.99,0.66],[2005.04,0.3],[2005.09,-0.01],[2005.14,-0.2],[2005.19,-0.39],[2005.25,-0.1],[2005.3,0.05],[2005.35,-0.1],[2005.4,-0.26],[2005.47,-0.2],[2005.55,-0.32],[2005.62,-0.45],[2005.71,-0.63],[2005.76,-0.45],[2005.81,-0.2],[2005.88,0.2],[2005.95,0.66],[2006.01,0.7],[2006.07,0.85],[2006.15,1.05],[2006.22,1.28],[2006.28,1.1],[2006.33,0.97],[2006.38,0.75],[2006.43,0.54],[2006.48,0.65],[2006.53,0.79],[2006.58,0.6],[2006.64,0.42],[2006.69,0.55],[2006.74,0.66],[2006.79,0.35],[2006.84,0.05],[2006.89,0.2],[2006.94,0.36],[2007.0,0.25],[2007.05,0.17],[2007.1,-0.05],[2007.15,-0.2],[2007.2,-0.05],[2007.25,0.11],[2007.3,0.25],[2007.36,0.36],[2007.41,0.7],[2007.46,1.04],[2007.51,0.95],[2007.56,0.85],[2007.61,1.05],[2007.67,1.28],[2007.72,1.0],[2007.77,0.79],[2007.82,0.95],[2007.87,1.1],[2007.93,0.85],[2007.98,0.66],[2008.03,0.6],[2008.08,0.54],[2008.13,0.65],[2008.18,0.79],[2008.23,0.75],[2008.28,0.73],[2008.36,0.55],[2008.44,0.42],[2008.49,0.6],[2008.54,0.73],[2008.62,0.45],[2008.7,0.23],[2008.77,0.45],[2008.84,0.66],[2008.89,0.5],[2008.94,0.42],[2009.02,0.65],[2009.1,0.85],[2009.2,1.1],[2009.3,1.34],[2009.36,1.25],[2009.41,1.28],[2009.46,1.35],[2009.51,1.4],[2009.56,1.1],[2009.61,0.79],[2009.67,0.55],[2009.72,0.36],[2009.77,0.15],[2009.82,-0.01],[2009.87,0.1],[2009.92,0.05],[2009.97,-0.15],[2010.02,-0.32],[2010.07,-0.1],[2010.13,0.11],[2010.18,0.0],[2010.23,-0.14],[2010.28,-0.35],[2010.33,-0.57],[2010.39,-0.8],[2010.44,-1.07],[2010.49,-1.35],[2010.54,-1.62],[2010.59,-1.35],[2010.64,-1.13],[2010.7,-1.2],[2010.75,-1.25],[2010.8,-1.4],[2010.85,-1.5],[2010.9,-1.55],[2010.95,-1.62],[2011.0,-1.65],[2011.06,-1.68],[2011.11,-1.75],[2011.16,-1.81],[2011.22,-1.95],[2011.29,-2.12],[2011.34,-1.8],[2011.4,-1.5],[2011.46,-1.0],[2011.52,-0.57],[2011.57,-0.15],[2011.62,0.23],[2011.67,0.7],[2011.72,1.1],[2011.77,1.4],[2011.81,1.65],[2011.85,1.95],[2011.88,2.15],[2011.93,1.95],[2011.98,1.78],[2012.04,1.55],[2012.09,1.4],[2012.14,1.45],[2012.19,1.53],[2012.24,1.65],[2012.29,1.84],[2012.33,1.8],[2012.36,1.71],[2012.4,1.2],[2012.45,0.73],[2012.5,0.55],[2012.55,0.42],[2012.6,0.05],[2012.65,-0.32],[2012.7,-0.75],[2012.75,-1.19],[2012.8,-1.6],[2012.84,-2.05],[2012.88,-2.4],[2012.91,-2.61],[2012.96,-2.2],[2013.01,-1.81],[2013.06,-1.7],[2013.12,-1.56],[2013.2,-1.4],[2013.27,-1.19],[2013.35,-0.95],[2013.42,-0.69],[2013.48,-0.35],[2013.53,-0.08],[2013.58,0.1],[2013.63,0.29],[2013.68,0.15],[2013.73,0.05],[2013.78,0.3],[2013.84,0.48],[2013.89,0.38],[2013.94,0.29],[2013.99,0.3],[2014.04,0.23],[2014.1,0.0],[2014.15,-0.2],[2014.2,-0.5],[2014.25,-0.82],[2014.3,-1.2],[2014.35,-1.68],[2014.4,-1.4],[2014.45,-1.19],[2014.5,-1.5],[2014.54,-1.8],[2014.58,-2.05],[2014.63,-1.7],[2014.68,-1.31],[2014.75,-1.2],[2014.82,-1.07],[2014.87,-1.0],[2014.92,-0.94],[2015.0,-0.8],[2015.07,-0.69],[2015.12,-0.5],[2015.18,-0.32],[2015.25,-0.1],[2015.33,0.17],[2015.4,0.35],[2015.48,0.6],[2015.53,0.75],[2015.57,0.91],[2015.6,0.7],[2015.62,0.42]];
const canSO2 = [[2005.37,-0.76],[2005.45,-0.82],[2005.52,-1.0],[2005.6,-0.76],[2005.71,-0.76],[2005.81,-0.63],[2005.91,-0.88],[2006.02,-1.13],[2006.12,-1.44],[2006.22,-1.31],[2006.3,-1.35],[2006.38,-1.38],[2006.46,-1.45],[2006.53,-1.56],[2006.6,-1.25],[2006.69,-0.88],[2006.77,-0.6],[2006.84,-0.45],[2006.94,-0.39],[2007.02,-0.15],[2007.1,0.05],[2007.2,0.36],[2007.31,0.42],[2007.38,0.35],[2007.46,0.29],[2007.56,0.05],[2007.67,-0.08],[2007.77,-0.32],[2007.87,-0.45],[2007.95,-0.55],[2008.03,-0.63],[2008.1,-0.8],[2008.18,-0.94],[2008.28,-0.69],[2008.36,-0.65],[2008.44,-0.63],[2008.51,-0.5],[2008.59,-0.32],[2008.66,-0.2],[2008.74,-0.05],[2008.79,0.2],[2008.85,0.36],[2008.92,0.55],[2008.99,0.73],[2009.05,0.8],[2009.1,0.85],[2009.15,1.0],[2009.2,1.16],[2009.25,0.85],[2009.3,0.66],[2009.36,0.7],[2009.41,0.73],[2009.46,0.85],[2009.51,0.97],[2009.56,0.88],[2009.61,0.79],[2009.67,0.75],[2009.72,0.73],[2009.77,0.76],[2009.82,0.79],[2009.87,0.7],[2009.92,0.6],[2009.97,0.55],[2010.02,0.48],[2010.08,0.4],[2010.13,0.29],[2010.18,0.2],[2010.23,0.11],[2010.28,0.25],[2010.33,0.42],[2010.38,0.48],[2010.44,0.54],[2010.49,0.62],[2010.54,0.73],[2010.59,0.8],[2010.64,0.85],[2010.7,0.78],[2010.75,0.73],[2010.82,0.75],[2010.9,0.73],[2010.98,0.8],[2011.06,0.85],[2011.1,1.2],[2011.13,1.59],[2011.17,1.75],[2011.21,1.9],[2011.27,2.05],[2011.33,2.21],[2011.38,2.1],[2011.44,1.96],[2011.5,1.8],[2011.57,1.65],[2011.65,1.55],[2011.72,1.47],[2011.8,1.35],[2011.88,1.28],[2011.95,1.2],[2012.01,1.1],[2012.05,0.95],[2012.09,0.79],[2012.14,0.3],[2012.19,-0.2],[2012.24,-0.35],[2012.29,-0.45],[2012.34,-0.6],[2012.4,-0.82],[2012.45,-0.95],[2012.5,-1.07],[2012.55,-1.2],[2012.6,-1.38],[2012.65,-1.5],[2012.7,-1.56],[2012.78,-1.5],[2012.86,-1.44],[2012.91,-1.5],[2012.96,-1.56],[2013.01,-1.6],[2013.06,-1.68],[2013.14,-1.62],[2013.22,-1.56],[2013.3,-1.45],[2013.37,-1.31],[2013.43,-1.2],[2013.48,-1.07],[2013.53,-0.8],[2013.58,-0.57],[2013.66,-0.5],[2013.73,-0.45],[2013.81,-0.35],[2013.89,-0.26],[2013.96,-0.15],[2014.04,-0.08],[2014.1,0.0],[2014.15,0.11],[2014.2,-0.05],[2014.25,-0.2],[2014.3,-0.3],[2014.35,-0.45],[2014.42,-0.57],[2014.48,-0.55],[2014.53,-0.51],[2014.56,1.34],[2014.61,1.3],[2014.66,1.28],[2014.74,1.35],[2014.82,1.4],[2014.9,1.35],[2014.97,1.34],[2015.05,1.3],[2015.12,1.28],[2015.2,1.35],[2015.28,1.42],[2015.33,1.47],[2015.38,1.35],[2015.43,1.22],[2015.48,1.1],[2015.54,0.97],[2015.57,-0.32],[2015.6,-0.2],[2015.62,-0.26]];

const ausMODIS = [[2003.61,0.23],[2003.66,0.37],[2003.74,0.47],[2003.83,0.74],[2003.93,1.01],[2004.03,1.22],[2004.12,1.29],[2004.22,1.08],[2004.32,0.81],[2004.41,1.22],[2004.49,1.2],[2004.56,1.25],[2004.63,1.2],[2004.7,1.36],[2004.78,1.3],[2004.85,1.42],[2004.95,1.63],[2005.04,1.42],[2005.14,1.29],[2005.24,1.15],[2005.33,1.22],[2005.43,0.88],[2005.53,0.68],[2005.62,0.54],[2005.72,0.61],[2005.82,1.22],[2005.91,1.29],[2006.01,1.42],[2006.09,1.97],[2006.17,1.9],[2006.24,1.83],[2006.3,1.7],[2006.39,2.1],[2006.47,2.17],[2006.54,2.41],[2006.61,2.1],[2006.69,1.63],[2006.78,1.29],[2006.88,0.95],[2006.97,0.81],[2007.07,0.54],[2007.16,0.47],[2007.26,0.68],[2007.36,0.61],[2007.46,0.2],[2007.55,0.0],[2007.65,0.13],[2007.75,0.34],[2007.84,0.61],[2007.94,0.54],[2008.04,0.47],[2008.13,0.4],[2008.23,0.34],[2008.33,0.27],[2008.43,0.13],[2008.52,-0.21],[2008.62,-0.48],[2008.7,-0.28],[2008.77,-0.3],[2008.85,-0.48],[2008.92,-0.45],[2008.99,-0.55],[2009.07,-0.5],[2009.14,-0.62],[2009.21,-0.6],[2009.28,-0.68],[2009.38,-0.89],[2009.48,-0.55],[2009.57,-0.21],[2009.67,-0.14],[2009.77,0.06],[2009.86,0.13],[2009.94,0.1],[2010.01,0.2],[2010.1,0.61],[2010.2,0.81],[2010.3,0.47],[2010.36,0.55],[2010.42,0.68],[2010.48,0.4],[2010.54,0.06],[2010.64,-0.35],[2010.73,-0.55],[2010.83,-0.76],[2010.9,-0.7],[2010.97,-0.62],[2011.07,-1.03],[2011.15,-1.1],[2011.22,-1.16],[2011.29,-1.2],[2011.36,-1.16],[2011.41,-1.4],[2011.46,-1.71],[2011.55,-1.3],[2011.65,-1.37],[2011.72,-1.35],[2011.8,-1.3],[2011.87,-1.4],[2011.94,-1.5],[2012.01,-1.55],[2012.09,-1.64],[2012.16,-1.5],[2012.23,-1.37],[2012.33,-1.03],[2012.42,-1.43],[2012.52,-1.84],[2012.62,-1.77],[2012.71,-1.3],[2012.78,-1.35],[2012.86,-1.3],[2012.93,-1.25],[2013.0,-1.23],[2013.08,-1.3],[2013.15,-1.23],[2013.22,-1.15],[2013.29,-1.03],[2013.34,-0.75],[2013.39,-0.48],[2013.49,-0.21],[2013.56,-0.25],[2013.63,-0.21],[2013.7,-0.15],[2013.78,-0.07],[2013.85,0.0],[2013.92,0.13],[2014.02,0.2],[2014.11,0.06],[2014.19,0.05],[2014.26,0.0],[2014.36,-0.35],[2014.45,-0.62],[2014.53,-0.7],[2014.6,-0.76],[2014.67,-0.7],[2014.74,-0.68],[2014.82,-0.65],[2014.89,-0.62],[2014.98,-0.28],[2015.06,-0.3],[2015.13,-0.35],[2015.2,-0.3],[2015.27,-0.28],[2015.37,-0.76],[2015.42,-0.95],[2015.47,-1.09],[2015.52,-1.05],[2015.56,-0.96],[2015.63,-0.68]];
const ausMERRA = [[2003.61,-2.01],[2003.67,-1.5],[2003.72,-1.45],[2003.77,-1.57],[2003.84,-1.16],[2003.93,-0.75],[2004.01,-0.55],[2004.06,-0.3],[2004.11,0.0],[2004.2,-0.21],[2004.3,-0.48],[2004.4,-0.35],[2004.51,-0.62],[2004.61,-0.48],[2004.7,-0.89],[2004.78,-0.95],[2004.85,-1.03],[2004.95,-1.23],[2005.04,-1.64],[2005.14,-2.15],[2005.24,-1.71],[2005.33,-1.23],[2005.43,-1.37],[2005.53,-1.16],[2005.62,-1.23],[2005.72,-0.89],[2005.79,0.06],[2005.87,0.47],[2005.96,0.74],[2006.08,0.95],[2006.17,0.74],[2006.27,0.47],[2006.37,0.74],[2006.46,0.34],[2006.56,0.61],[2006.66,0.13],[2006.75,0.0],[2006.85,-0.35],[2006.93,-0.55],[2007.02,-0.21],[2007.1,0.06],[2007.21,0.47],[2007.31,0.68],[2007.39,0.34],[2007.49,0.0],[2007.58,0.27],[2007.68,0.88],[2007.78,1.36],[2007.87,1.7],[2007.93,1.4],[2007.99,1.15],[2008.09,0.95],[2008.18,0.88],[2008.28,0.68],[2008.38,0.88],[2008.45,1.15],[2008.55,0.54],[2008.65,0.2],[2008.76,0.13],[2008.83,0.4],[2008.9,0.2],[2008.99,0.81],[2009.09,0.47],[2009.19,0.2],[2009.28,-0.21],[2009.38,0.06],[2009.48,-0.35],[2009.57,0.34],[2009.67,0.47],[2009.77,0.2],[2009.86,0.06],[2009.96,-0.21],[2010.06,-0.07],[2010.15,0.47],[2010.25,0.61],[2010.33,0.74],[2010.39,1.22],[2010.49,1.97],[2010.59,2.04],[2010.68,2.52],[2010.75,2.92],[2010.83,2.58],[2010.91,2.92],[2010.97,2.45],[2011.07,2.24],[2011.17,1.7],[2011.26,1.56],[2011.36,1.29],[2011.44,1.01],[2011.53,0.47],[2011.62,0.0],[2011.72,-0.07],[2011.82,0.2],[2011.91,0.06],[2012.01,0.13],[2012.11,-0.21],[2012.23,-0.62],[2012.33,-1.03],[2012.42,-1.23],[2012.52,-1.43],[2012.62,-1.64],[2012.71,-1.43],[2012.81,-1.64],[2012.96,-1.71],[2013.05,-1.5],[2013.15,-1.09],[2013.25,-0.62],[2013.34,-0.21],[2013.44,0.2],[2013.54,0.34],[2013.63,0.13],[2013.73,0.54],[2013.82,0.81],[2013.92,1.15],[2014.0,1.01],[2014.11,0.95],[2014.21,0.61],[2014.31,0.47],[2014.41,-0.07],[2014.5,-0.62],[2014.6,-0.82],[2014.69,-1.23],[2014.84,-1.57],[2014.94,-1.03],[2015.03,-0.48],[2015.13,-0.21],[2015.23,0.27],[2015.32,0.54],[2015.42,0.74],[2015.52,1.08],[2015.59,0.95]];
const ausSO2 = [[2005.35,-0.25],[2005.48,-0.21],[2005.59,-0.14],[2005.69,-0.21],[2005.77,-0.41],[2005.91,-0.38],[2006.06,-0.41],[2006.2,-0.48],[2006.35,-0.62],[2006.47,-1.03],[2006.59,-1.3],[2006.73,-1.23],[2006.88,-1.23],[2007.02,-1.27],[2007.16,-1.3],[2007.28,-1.23],[2007.41,-1.03],[2007.53,-0.69],[2007.65,-0.62],[2007.8,-0.82],[2007.94,-0.82],[2008.09,-0.75],[2008.23,-0.69],[2008.38,-0.55],[2008.47,-0.48],[2008.57,-0.62],[2008.7,-0.35],[2008.85,0.0],[2008.99,0.2],[2009.14,0.2],[2009.28,0.27],[2009.43,0.27],[2009.57,0.4],[2009.72,0.34],[2009.82,0.2],[2009.91,0.27],[2010.06,0.06],[2010.15,-0.14],[2010.3,-0.28],[2010.42,-0.41],[2010.47,2.86],[2010.59,2.99],[2010.68,3.13],[2010.78,2.79],[2010.91,2.58],[2011.02,2.52],[2011.12,2.31],[2011.22,2.52],[2011.33,2.79],[2011.44,2.99],[2011.51,-0.28],[2011.6,-0.07],[2011.75,0.0],[2011.84,0.34],[2011.99,0.47],[2012.13,0.74],[2012.23,0.61],[2012.33,0.4],[2012.47,0.06],[2012.62,-0.21],[2012.76,-0.07],[2012.91,-0.14],[2013.05,-0.21],[2013.2,-0.07],[2013.34,-0.14],[2013.49,-0.21],[2013.63,-0.35],[2013.78,-0.41],[2013.92,-0.28],[2014.07,-0.35],[2014.21,-0.48],[2014.36,-0.55],[2014.5,-0.21],[2014.65,0.06],[2014.79,-0.14],[2014.94,-0.21],[2015.0,0.47],[2015.1,0.68],[2015.23,0.54],[2015.37,0.34],[2015.47,0.13],[2015.56,0.2],[2015.63,0.13]];

const yDomains = [[-3, 3], [-3, 4], [-3, 3], [-3, 3], [-3, 4]];
const seriesByRegion = [
  [calSO2, calMERRA, calMODIS],
  [namSO2, namMERRA, namMODIS],
  [peruSO2, peruMERRA, peruMODIS],
  [canSO2, canMERRA, canMODIS],
  [ausSO2, ausMERRA, ausMODIS]
];

// ---------------- LAYOUT / STYLE ----------------
const FONT = '"Liberation Sans", Arial, "DejaVu Sans", sans-serif';
const COLORS = ["#ff0000", "#4c72b0", "#000000"];
const TEXT = "#262626";
const layouts = [
  {L:91, T:43, R:525, B:351, tick:9, xpad:8.5, ypad:7, title:11.5, titleDy:9, ylab:10, ylabOff:30, ann:11.5, leg:9.5,
   annX:31.7, annY:[252, 264.5], legY:[279.7, 294], sw1:[9,29], tx1:36.7, sw2:[118,139], tx2:145.7},
  {L:746, T:44.3, R:1193.8, B:361.7, tick:9, xpad:8.5, ypad:7, title:11.5, titleDy:9, ylab:10, ylabOff:32, ann:11.5, leg:9.5,
   annX:32.7, annY:[258.7, 271.7], legY:[288.4, 303.7], sw1:[9.6,30], tx1:38, sw2:[122.4,142.7], tx2:150.4},
  {L:93, T:459.7, R:542.3, B:778, tick:9, xpad:8.5, ypad:7, title:11.5, titleDy:9, ylab:10, ylabOff:31, ann:11.5, leg:9.5,
   annX:33.3, annY:[260, 273.3], legY:[289, 304.3], sw1:[10,30], tx1:38.3, sw2:[125,145], tx2:151.7},
  {L:747, T:460.3, R:1200, B:784, tick:9, xpad:8.5, ypad:7, title:11.5, titleDy:9, ylab:10, ylabOff:32, ann:11.5, leg:9.5,
   annX:33.3, annY:[262, 276], legY:[292.7, 308], sw1:[10,30], tx1:38.3, sw2:[125,145], tx2:152.7},
  {L:98.7, T:885.3, R:581.7, B:1228, tick:10.3, xpad:9.4, ypad:7.5, title:12.6, titleDy:10, ylab:11, ylabOff:34, ann:12.5, leg:10.6,
   annX:35.6, annY:[14.3, 28], legY:[45, 61.7], sw1:[10,32.6], tx1:41, sw2:[131.6,155], tx2:163.3}
];

const page = document.getElementById("page");
function rule(x, y, w, h) {
  const d = document.createElement("div");
  d.className = "rule";
  Object.assign(d.style, {left: x + "px", top: y + "px", width: w + "px", height: h + "px"});
  page.appendChild(d);
}
rule(6, 4, 1270, 2);
rule(6, 4, 2, 1283);
rule(659, 4, 2, 1283);
rule(6, 418, 1270, 2);
rule(6, 840, 1270, 2);

function drawPanel(i) {
  const lay = layouts[i];
  const [so2, merra, modis] = seriesByRegion[i];
  const mL = 52, mT = 26, mR = 14, mB = 30;
  const fw = lay.R - lay.L, fh = lay.B - lay.T;
  const acc = {x: d => d[0], y: d => d[1]};
  const yTicks = d3.range(yDomains[i][0], yDomains[i][1] + 1);
  const svg = Plot.plot({
    width: fw + mL + mR, height: fh + mT + mB,
    marginLeft: mL, marginRight: mR, marginTop: mT, marginBottom: mB,
    style: {fontFamily: FONT, fontSize: lay.tick + "px", color: "#333", background: "transparent", overflow: "visible"},
    x: {domain: [2002, 2016], ticks: years, tickFormat: d => String(d), tickSize: 0, tickPadding: lay.xpad, label: null},
    y: {domain: yDomains[i], ticks: yTicks, tickFormat: d => d < 0 ? "\u2212" + (-d) : String(d), tickSize: 0, tickPadding: lay.ypad, label: null},
    marks: [
      Plot.line(so2, {...acc, stroke: COLORS[0], strokeWidth: 2}),
      Plot.line(modis, {...acc, stroke: COLORS[2], strokeWidth: 2}),
      Plot.line(merra, {...acc, stroke: COLORS[1], strokeWidth: 2}),
      Plot.frame({stroke: "#3c3c3c", strokeWidth: 1.3}),
      Plot.text([regionNames[i]], {text: d => d, frameAnchor: "top", lineAnchor: "middle", dy: -lay.titleDy, fontSize: lay.title, fill: TEXT})
    ]
  });
  svg.style.position = "absolute";
  svg.style.left = (lay.L - mL) + "px";
  svg.style.top = (lay.T - mT) + "px";
  const s = d3.select(svg);
  const g = s.append("g").attr("text-anchor", "start").attr("font-family", FONT);
  const yl = g.append("text")
    .attr("transform", `translate(${mL - lay.ylabOff},${mT + fh / 2}) rotate(-90)`)
    .attr("text-anchor", "middle").attr("dominant-baseline", "central")
    .attr("font-size", lay.ylab).attr("fill", "#333");
  yl.append("tspan").text("Anomalies [");
  yl.append("tspan").attr("font-style", "italic").attr("font-family", '"DejaVu Serif", serif').text("\u03C3");
  yl.append("tspan").text("]");
  [corrOMI[i], corrMERRA[i]].forEach((t, k) => {
    g.append("text").attr("x", mL + lay.annX).attr("y", mT + lay.annY[k])
      .attr("text-anchor", "start").attr("dominant-baseline", "central").attr("font-size", lay.ann)
      .attr("fill", TEXT).text(t);
  });
  const entries = [
    {name: seriesNames[0], color: COLORS[0], sw: lay.sw1, tx: lay.tx1, row: 0},
    {name: seriesNames[2], color: COLORS[2], sw: lay.sw1, tx: lay.tx1, row: 1},
    {name: seriesNames[1], color: COLORS[1], sw: lay.sw2, tx: lay.tx2, row: 0}
  ];
  entries.forEach(e => {
    const y = mT + lay.legY[e.row];
    g.append("line").attr("x1", mL + e.sw[0]).attr("x2", mL + e.sw[1]).attr("y1", y).attr("y2", y)
      .attr("stroke", e.color).attr("stroke-width", 2);
    g.append("text").attr("x", mL + e.tx).attr("y", y).attr("text-anchor", "start").attr("dominant-baseline", "central")
      .attr("font-size", lay.leg).attr("fill", "#333").text(e.name);
  });
  page.appendChild(svg);
}
for (let i = 0; i < 5; i++) drawPanel(i);
</script>
</body></html>
